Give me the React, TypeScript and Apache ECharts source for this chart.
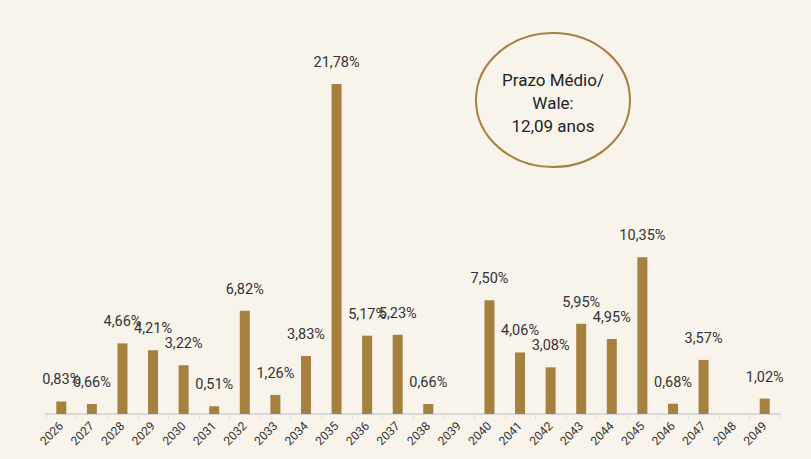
import React, { useEffect, useRef } from "react";
import * as echarts from "echarts";

const years = ["2026","2027","2028","2029","2030","2031","2032","2033","2034","2035","2036","2037","2038","2039","2040","2041","2042","2043","2044","2045","2046","2047","2048","2049"];
const shares: (number | null)[] = [0.83,0.66,4.66,4.21,3.22,0.51,6.82,1.26,3.83,21.78,5.17,5.23,0.66,null,7.50,4.06,3.08,5.95,4.95,10.35,0.68,3.57,null,1.02];
const waleLines = ["Prazo Médio/", "Wale:", "12,09 anos"];

const BAR = "#A5803F";
const FONT = "Roboto, 'Noto Sans', sans-serif";

export default function App() {
  const ref = useRef<HTMLDivElement>(null);
  useEffect(() => {
    if (!ref.current) return;
    const chart = echarts.init(ref.current, null, { renderer: "svg" });
    chart.setOption({
      animation: false,
      backgroundColor: "#F8F4EC",
      grid: { left: 46, right: 31, top: 84, bottom: 45 },
      xAxis: {
        type: "category",
        data: years,
        axisLine: { lineStyle: { color: "#D9D9D9", width: 2 } },
        axisTick: { show: true, lineStyle: { color: "#D9D9D9", width: 1 }, length: 5 },
        axisLabel: { rotate: 45, color: "#333", fontSize: 12, fontFamily: FONT, margin: 10, interval: 0 },
      },
      yAxis: { type: "value", min: 0, max: 21.78, show: false, splitLine: { show: false } },
      series: [
        {
          type: "bar",
          data: shares,
          barWidth: 10,
          itemStyle: { color: BAR },
          label: {
            show: true,
            position: "top",
            distance: 14,
            color: "#333",
            fontSize: 14.5,
            fontFamily: FONT,
            formatter: (p: any) => (p.value == null ? "" : p.value.toFixed(2).replace(".", ",") + "%"),
          },
        },
      ],
      graphic: [
        {
          type: "ellipse",
          shape: { cx: 553, cy: 100, rx: 77, ry: 67 },
          style: { fill: "none", stroke: BAR, lineWidth: 2 },
        },
        ...waleLines.map((t, i) => ({
          type: "text",
          x: 553,
          y: 80 + i * 23,
          style: { text: t, fill: "#222", font: `17px ${FONT}`, textAlign: "center", textVerticalAlign: "middle" },
        })),
      ],
    });
    return () => chart.dispose();
  }, []);
  return <div ref={ref} style={{ width: 811, height: 459, position: "absolute", left: 0, top: 0 }} />;
}
